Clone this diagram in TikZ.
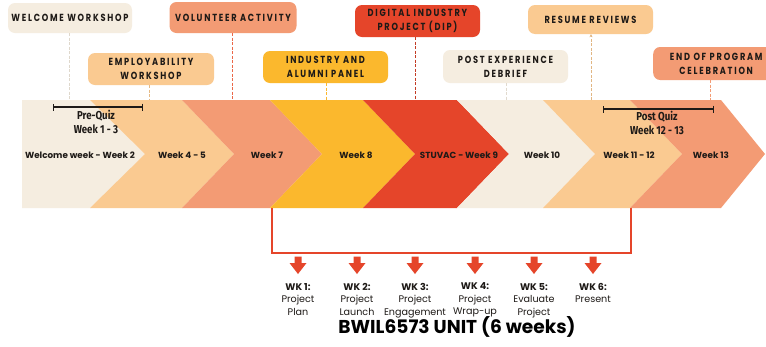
\documentclass[tikz,border=0pt]{standalone}
\usepackage{fontspec}
\setmainfont{Poppins}[BoldFont=* Bold]
\newfontfamily\boxfont{Poppins}[BoldFont=* Bold, LetterSpace=17, FakeStretch=0.8]
\newfontfamily\quizfont{Fira Sans}[BoldFont=* Bold, FakeStretch=0.84]
\usetikzlibrary{arrows.meta}
\definecolor{cream}{HTML}{F5EDE0}
\definecolor{peach}{HTML}{FACA91}
\definecolor{salmon}{HTML}{F39B74}
\definecolor{gold}{HTML}{FBB82D}
\definecolor{dipred}{HTML}{E5452A}
\definecolor{ink}{HTML}{1E1A17}
\tikzset{
  topbox/.style={rounded corners=7pt, minimum height=31pt, inner xsep=2pt, align=center,
    font=\boxfont\bfseries\fontsize{10.3}{14}\selectfont, text=ink},
  wklabel/.style={font=\bfseries\fontsize{8.8}{10}\selectfont, text=ink},
  link/.style={dash pattern=on 3pt off 1.5pt, line width=0.8pt},
  quiz/.style={line width=1.4pt, ink, {Bar[width=7pt]}-{Bar[width=7pt]}},
  quiztext/.style={font=\quizfont\bfseries\fontsize{11.5}{14}\selectfont, text=ink, align=center},
  wktext/.style={font=\fontsize{9.6}{12.5}\selectfont, text=ink, align=center, anchor=north}
}
\begin{document}
\begin{tikzpicture}[x=1pt,y=-1pt]
\useasboundingbox (0,0) rectangle (766,346);
\fill[white] (0,0) rectangle (766,346);
% band segments
\def\tp{100}\def\bt{208}\def\md{154}
\fill[cream]  (22,\tp) -- (90,\tp) -- (145,\md) -- (90,\bt) -- (22,\bt) -- cycle;
\fill[peach]  (90,\tp) -- (182,\tp) -- (234,\md) -- (182,\bt) -- (90,\bt) -- (145,\md) -- cycle;
\fill[salmon] (182,\tp) -- (270,\tp) -- (322,\md) -- (270,\bt) -- (182,\bt) -- (234,\md) -- cycle;
\fill[gold]   (270,\tp) -- (363,\tp) -- (415,\md) -- (363,\bt) -- (270,\bt) -- (322,\md) -- cycle;
\fill[dipred] (363,\tp) -- (457,\tp) -- (509,\md) -- (457,\bt) -- (363,\bt) -- (415,\md) -- cycle;
\fill[cream]  (457,\tp) -- (543,\tp) -- (595,\md) -- (543,\bt) -- (457,\bt) -- (509,\md) -- cycle;
\fill[peach]  (543,\tp) -- (630,\tp) -- (682,\md) -- (630,\bt) -- (543,\bt) -- (595,\md) -- cycle;
\fill[salmon] (630,\tp) -- (721,\tp) -- (765,\md) -- (721,\bt) -- (630,\bt) -- (682,\md) -- cycle;
% band labels
\node[wklabel] (w1) at (80,155) {Welcome week - Week 2};
\node[wklabel] (w2) at (182,155) {Week 4 - 5};
\node[wklabel] (w3) at (267,155) {Week 7};
\node[wklabel] (w4) at (356,155) {Week 8};
\node[wklabel] (w5) at (459,155) {STUVAC - Week 9};
\node[wklabel] (w6) at (542,155) {Week 10};
\node[wklabel] (w7) at (629,155) {Week 11 - 12};
\node[wklabel] (w8) at (711,155) {Week 13};
% quiz brackets
\coordinate (pqa) at (53,107); \coordinate (pqb) at (143,107);
\draw[quiz] (pqa) -- (pqb);
\node[quiztext] (pq) at (96,122) {Pre-Quiz\\Week 1 - 3};
\coordinate (poa) at (603,109); \coordinate (pob) at (714,109);
\draw[quiz] (poa) -- (pob);
\node[quiztext] (po) at (657,123) {Post Quiz\\Week 12 - 13};
% top boxes
\node[topbox, fill=cream, minimum width=124pt, minimum height=30pt] (b1) at (70,18) {WELCOME WORKSHOP};
\node[topbox, fill=salmon, minimum width=127pt, minimum height=31pt] (b2) at (233,17.5) {VOLUNTEER ACTIVITY};
\node[topbox, fill=peach, minimum width=126pt, minimum height=32pt] (b3) at (151,69) {EMPLOYABILITY\\WORKSHOP};
\node[topbox, fill=gold, minimum width=125pt, minimum height=32pt] (b4) at (325.5,67) {INDUSTRY AND\\ALUMNI PANEL};
\node[topbox, fill=dipred, minimum width=125pt, minimum height=32pt] (b5) at (417.5,21) {DIGITAL INDUSTRY\\PROJECT (DIP)};
\node[topbox, fill=cream, minimum width=125pt, minimum height=33pt] (b6) at (505.5,66.5) {POST EXPERIENCE\\DEBRIEF};
\node[topbox, fill=peach, minimum width=125pt, minimum height=29pt] (b7) at (590.5,19.5) {RESUME REVIEWS};
\node[topbox, fill=salmon, minimum width=126pt, minimum height=33pt, anchor=west] (b8) at (653,63.5) {END OF PROGRAM\\CELEBRATION};
% connectors
\coordinate (c1) at (69,\tp); \coordinate (c2) at (232,\tp); \coordinate (c3) at (149,\tp);
\coordinate (c4) at (326,\tp); \coordinate (c5) at (415,\tp); \coordinate (c6) at (506,\tp);
\coordinate (c7) at (591,\tp); \coordinate (c8) at (710,\tp);
\draw[link, cream!85!black!60!cream] (b1.south -| c1) -- (c1);
\draw[link, dipred!60!salmon] (b2.south -| c2) -- (c2);
\draw[link, peach!80!black!40!peach] (b3.south -| c3) -- (c3);
\draw[link, gold] (b4.south -| c4) -- (c4);
\draw[link, dipred!85!black] (b5.south -| c5) -- (c5);
\draw[link, cream!80!black!40!cream] (b6.south -| c6) -- (c6);
\draw[link, peach!90!black, -{Stealth[length=3pt,width=3pt]}] (c7) -- (b7.south -| c7);
\draw[link, salmon] (b8.south -| c8) -- (c8);
% DIP bracket
\coordinate (dl) at (272,\bt); \coordinate (dr) at (631,\bt);
\coordinate (dbl) at (272,253); \coordinate (dbr) at (631,253);
\draw[dipred, line width=1.4pt] (dl) -- (dbl) -- (dbr) -- (dr);
% arrows and week labels
\foreach \i/\x/\t in {1/298/{\textbf{WK 1:}\\Project\\Plan},
                      2/357/{\textbf{WK 2:}\\Project\\Launch},
                      3/415/{\textbf{WK 3:}\\Project\\Engagement},
                      4/475/{\textbf{WK 4:}\\Project\\Wrap-up},
                      5/534/{\textbf{WK 5:}\\Evaluate\\Project},
                      6/593/{\textbf{WK 6:}\\Present}}{
  \coordinate (a\i) at (\x,274);
  \fill[dipred] (a\i) -- ++(-8.5,-11) -- ++(5,0) -- ++(0,-6.5) -- ++(7,0) -- ++(0,6.5) -- ++(5,0) -- cycle;
  \node[wktext] (t\i) at (\x,279.5) {\t};
}
\node[font=\bfseries\fontsize{18.6}{20}\selectfont, text=black] (title) at (457,327) {BWIL6573 UNIT (6 weeks)};
\end{tikzpicture}
\end{document}
